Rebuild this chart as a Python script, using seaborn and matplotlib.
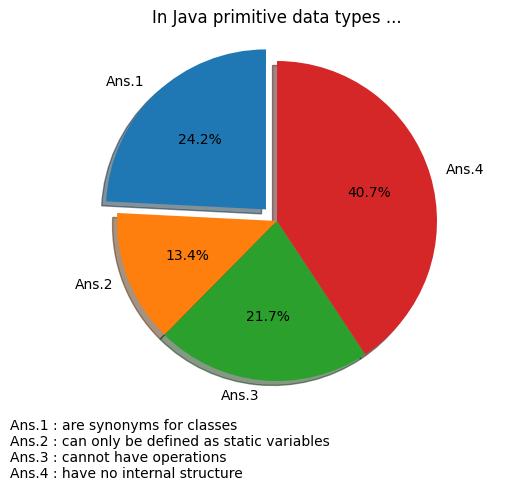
import matplotlib
matplotlib.use("Agg")
import matplotlib.pyplot as plt
import seaborn as sns

labels = ["Ans.1", "Ans.2", "Ans.3", "Ans.4"]
values = [24.2, 13.4, 21.7, 40.7]
explode = [0.1, 0, 0, 0]
answers = [
    "are synonyms for classes",
    "can only be defined as static variables",
    "cannot have operations",
    "have no internal structure",
]
title = "In Java primitive data types ..."

colors = sns.color_palette("tab10", 4)

fig = plt.figure(figsize=(5.31, 4.91), dpi=100)
ax = fig.add_axes([77 / 531, (491 - 421) / 491, 400 / 531, 400 / 491])
ax.pie(values, labels=labels, explode=explode, colors=colors,
       autopct="%1.1f%%", shadow=True, startangle=90)
ax.set_title(title, pad=0, y=0.995)
legend_text = "\n".join(f"{l} : {a}" for l, a in zip(labels, answers))
fig.text(10 / 531, (491 - 419) / 491, legend_text, ha="left", va="top",
         fontsize=10, linespacing=1.18)
fig.savefig("out.png", dpi=100)
